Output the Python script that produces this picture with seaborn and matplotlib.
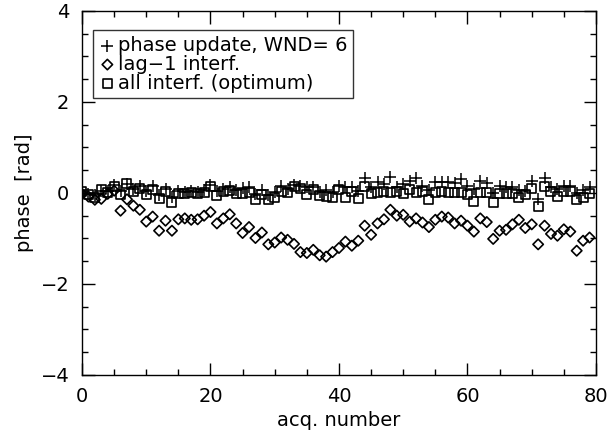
import numpy as np
import pandas as pd
import matplotlib
matplotlib.use("Agg")
import matplotlib.pyplot as plt
import seaborn as sns
from matplotlib.ticker import MultipleLocator

acq = list(range(80))

phase_update = [0.02, -0.02, -0.05, 0.05, 0.05, 0.18, 0.05, 0.20, 0.08, 0.15,
                0.05, 0.15, -0.05, 0.08, -0.10, 0.05, 0.03, 0.05, 0.02, 0.06,
                0.18, 0.05, 0.08, 0.13, 0.06, 0.10, 0.12, -0.02, 0.07, -0.05,
                0.02, 0.15, 0.08, 0.17, 0.15, 0.13, 0.12, 0.03, 0.06, 0.02,
                0.15, 0.14, 0.12, 0.05, 0.32, 0.12, 0.23, 0.19, 0.36, 0.12,
                0.20, 0.27, 0.32, 0.16, 0.06, 0.25, 0.25, 0.25, 0.21, 0.30,
                0.16, 0.09, 0.27, 0.21, 0.00, 0.16, 0.14, 0.12, 0.07, 0.05,
                0.27, -0.13, 0.33, 0.14, 0.09, 0.16, 0.16, 0.00, 0.07, 0.14]

lag1 = [-0.02, -0.08, -0.15, -0.13, -0.02, 0.05, -0.39, -0.14, -0.28, -0.37,
        -0.63, -0.52, -0.83, -0.61, -0.83, -0.58, -0.56, -0.59, -0.58, -0.50,
        -0.42, -0.67, -0.56, -0.47, -0.67, -0.88, -0.75, -0.99, -0.87, -1.13,
        -1.09, -0.98, -1.03, -1.12, -1.30, -1.32, -1.25, -1.37, -1.40, -1.30,
        -1.21, -1.07, -1.16, -1.05, -0.72, -0.92, -0.67, -0.58, -0.37, -0.50,
        -0.48, -0.63, -0.56, -0.65, -0.75, -0.59, -0.52, -0.54, -0.67, -0.61,
        -0.72, -0.85, -0.56, -0.64, -1.01, -0.83, -0.81, -0.69, -0.59, -0.77,
        -0.69, -1.13, -0.72, -0.90, -0.94, -0.80, -0.85, -1.27, -1.05, -0.98]

all_interf = [0.03, -0.04, -0.10, 0.07, 0.00, 0.14, -0.03, 0.20, 0.03, 0.10,
              -0.04, 0.08, -0.13, 0.03, -0.20, -0.02, -0.02, 0.00, -0.02, 0.00,
              0.15, -0.05, 0.03, 0.06, -0.02, -0.02, 0.00, -0.14, -0.04, -0.15,
              -0.11, 0.03, 0.00, 0.14, 0.10, -0.04, 0.07, -0.06, -0.08, -0.11,
              0.07, -0.09, 0.04, -0.13, 0.15, -0.01, 0.00, 0.03, 0.00, 0.03,
              -0.02, 0.07, 0.00, 0.03, -0.15, 0.00, 0.04, 0.02, 0.00, 0.02,
              -0.04, -0.18, 0.00, 0.02, -0.22, -0.02, -0.02, -0.02, -0.11, -0.04,
              0.10, -0.30, 0.15, 0.03, -0.08, 0.04, 0.04, -0.15, -0.11, -0.02]

labels = ["phase update, WND= 6", "lag\u22121 interf.", "all interf. (optimum)"]

sns.set_theme(style="white")
plt.rcParams["font.family"] = ["DejaVu Sans"]

fig = plt.figure(figsize=(6.10, 4.36), dpi=100)
ax = fig.add_axes([0.1344, 0.140, 0.8426, 0.835])

lw = 1.2
sns.scatterplot(x=acq, y=phase_update, marker="+", s=85, color="black",
                linewidth=1.1, ax=ax, label=labels[0])
sns.scatterplot(x=acq, y=lag1, marker="D", s=28, facecolor="none",
                edgecolor="black", linewidth=lw, ax=ax, label=labels[1])
sns.scatterplot(x=acq, y=all_interf, marker="s", s=42, facecolor="none",
                edgecolor="black", linewidth=lw, ax=ax, label=labels[2])

ax.set_xlim(0, 80)
ax.set_ylim(-4, 4)
ax.xaxis.set_major_locator(MultipleLocator(20))
ax.xaxis.set_minor_locator(MultipleLocator(5))
ax.yaxis.set_major_locator(MultipleLocator(2))
ax.yaxis.set_minor_locator(MultipleLocator(0.5))
ax.tick_params(which="both", direction="in", top=True, right=True,
               bottom=True, left=True, colors="black", labelsize=14, width=1)
ax.tick_params(which="major", length=9, pad=9)
ax.tick_params(which="minor", length=4.5)
for sp in ax.spines.values():
    sp.set_color("black")
    sp.set_linewidth(1)

ax.set_xlabel("acq. number", fontsize=14, color="black", labelpad=3)
ax.set_ylabel("phase  [rad]", fontsize=14, color="black", labelpad=5)

leg = ax.legend(loc="upper left", bbox_to_anchor=(0.021, 0.948),
                borderaxespad=0, fontsize=14, frameon=True, fancybox=False,
                handletextpad=0.1, handlelength=0.9, labelspacing=0.0,
                borderpad=0.3)
leg.get_frame().set_edgecolor("black")
leg.get_frame().set_linewidth(1)
for t in leg.get_texts():
    t.set_color("black")

fig.savefig("out.png", dpi=100)
